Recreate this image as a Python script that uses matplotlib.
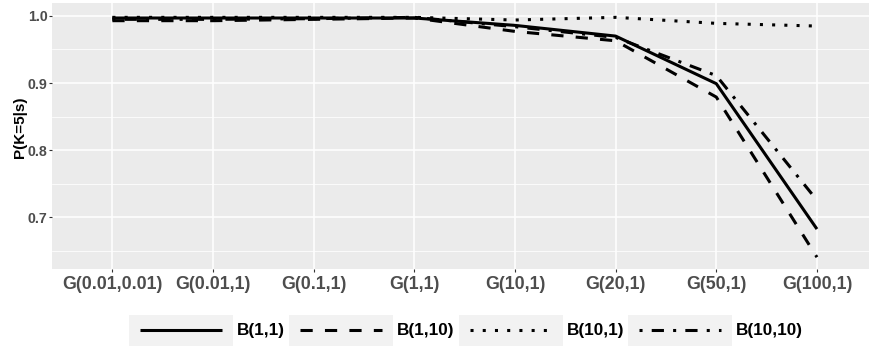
import matplotlib
matplotlib.use("Agg")
import matplotlib.pyplot as plt
from matplotlib.lines import Line2D
from matplotlib.patches import Rectangle
from matplotlib.ticker import MultipleLocator

plt.rcParams['font.family'] = ['Liberation Sans', 'DejaVu Sans']

# data
cats = ['G(0.01,0.01)', 'G(0.01,1)', 'G(0.1,1)', 'G(1,1)',
        'G(10,1)', 'G(20,1)', 'G(50,1)', 'G(100,1)']
b_1_1 = [0.997, 0.997, 0.997, 0.997, 0.986, 0.970, 0.899, 0.682]
b_1_10 = [0.993, 0.993, 0.995, 0.997, 0.977, 0.963, 0.879, 0.640]
b_10_1 = [0.998, 0.998, 0.998, 0.998, 0.994, 0.998, 0.989, 0.985]
b_10_10 = [0.995, 0.995, 0.996, 0.998, 0.984, 0.968, 0.911, 0.725]
series_names = ['B(1,1)', 'B(1,10)', 'B(10,1)', 'B(10,10)']
series_vals = [b_1_1, b_1_10, b_10_1, b_10_10]

# ggplot-like linetypes: solid, dashed "44", dotted "13", dotdash "1343"
styles = ['-', (0, (4, 4)), (0, (1, 3)), (0, (1, 3, 4, 3))]
lw = 2.2

W, H = 870, 346
fig = plt.figure(figsize=(W / 100, H / 100), dpi=100)
ax = fig.add_axes([52 / W, 1 - 269 / H, (W - 52) / W, (269 - 3) / H])
ax.set_facecolor('#EBEBEB')

x = list(range(1, len(cats) + 1))
for vals, ls in zip(series_vals, styles):
    ax.plot(x, vals, color='black', linestyle=ls, linewidth=lw,
            dash_capstyle='butt', solid_capstyle='butt', zorder=3)

ax.set_xlim(0.4, 8.527)
ax.set_ylim(0.6224, 1.0194)
ax.set_xticks(x)
ax.set_xticklabels(cats)
ax.yaxis.set_major_locator(MultipleLocator(0.1))
ax.yaxis.set_minor_locator(MultipleLocator(0.05))
ax.set_yticks([0.7, 0.8, 0.9, 1.0])
ax.set_yticklabels(['0.7', '0.8', '0.9', '1.0'])

ax.grid(which='major', color='white', linewidth=1.1, zorder=0)
ax.grid(which='minor', axis='y', color='white', linewidth=0.55, zorder=0)
ax.set_axisbelow(True)
for s in ax.spines.values():
    s.set_visible(False)

ax.tick_params(axis='x', which='major', length=2.5, width=0.8, color='#333333',
               labelsize=12.8, labelcolor='#4D4D4D', pad=2.5)
ax.tick_params(axis='y', which='major', length=2.2, width=0.8, color='#333333',
               labelsize=10.2, labelcolor='#4D4D4D', pad=1)
ax.tick_params(axis='y', which='minor', length=0)
for lab in ax.get_xticklabels() + ax.get_yticklabels():
    lab.set_fontweight('bold')

fig.text(20 / W, 1 - 127 / H, 'P(K=5|s)', rotation=90, ha='center', va='center',
         fontsize=11, fontweight='bold', color='black')

# legend drawn at the bottom, ggplot style with grey key boxes
key_left = [129, 289, 459, 628]
key_w = 104
key_top, key_bot = 315, 346
y_leg = 330
for name, ls, kl in zip(series_names, styles, key_left):
    fig.add_artist(Rectangle((kl / W, 1 - key_bot / H), key_w / W,
                             (key_bot - key_top) / H, transform=fig.transFigure,
                             facecolor='#F2F2F2', edgecolor='none'))
    fig.add_artist(Line2D([(kl + 11) / W, (kl + key_w - 11) / W],
                          [1 - y_leg / H, 1 - y_leg / H], transform=fig.transFigure,
                          color='black', linestyle=ls, linewidth=lw,
                          dash_capstyle='butt', solid_capstyle='butt'))
    fig.text((kl + key_w + 4) / W, 1 - y_leg / H, name, ha='left', va='center',
             fontsize=12.3, fontweight='bold', color='black')

fig.savefig('out.png', dpi=100)
